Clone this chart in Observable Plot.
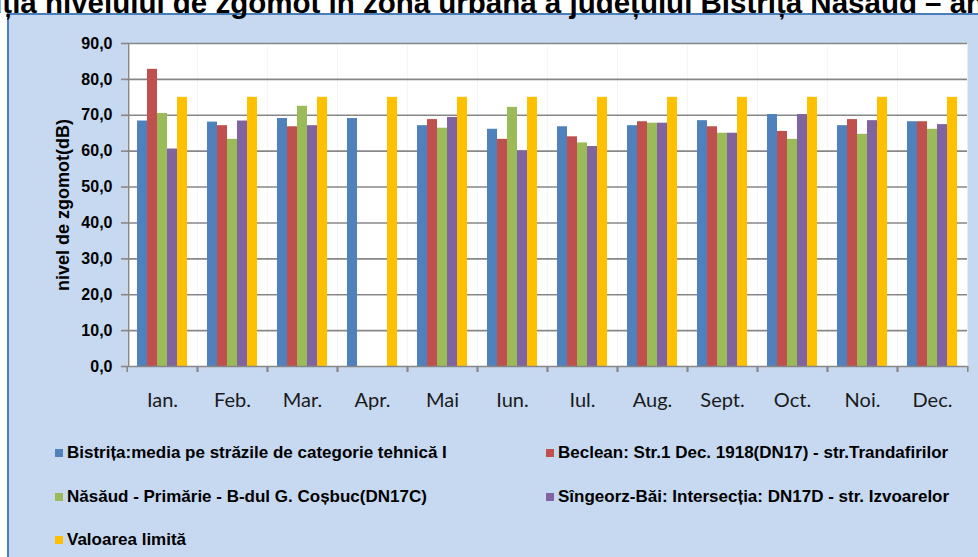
<!DOCTYPE html>
<html>
<head>
<meta charset="utf-8">
<script src="https://cdn.jsdelivr.net/npm/d3@7"></script>
<script src="https://cdn.jsdelivr.net/npm/@observablehq/plot@0.6"></script>
<style>
  html, body { margin: 0; padding: 0; background: #fff; }
  #root { position: relative; width: 978px; height: 557px; overflow: hidden; background: #fff; }
  #panel { position: absolute; left: 7px; top: 13px; width: 990px; height: 560px; background: #c6d9f1;
           border-left: 2px solid #4a7ebb; border-top: 2px solid #4a7ebb; box-sizing: border-box; }
  #title { position: absolute; top: -12px; left: -78px; white-space: nowrap; font-family: "Liberation Sans", Arial, sans-serif;
           font-weight: bold; font-size: 29.5px; line-height: 29.5px; color: #000; }
  #chart { position: absolute; left: 0; top: 0; }
  .leg { position: absolute; font-family: "Liberation Sans", Arial, sans-serif; font-weight: bold; font-size: 17px;
         color: #000; white-space: nowrap; display: flex; align-items: center; }
  .sw { display: inline-block; width: 8px; height: 8px; margin-right: 4px; }
</style>
</head>
<body>
<div id="root">
  <div id="panel"></div>
  <div id="title">Evoluția nivelului de zgomot în zona urbană a județului Bistrița Năsăud – anul</div>
  <div id="chart"></div>
  <div id="legend"></div>
</div>
<script>
const months = ["Ian.", "Feb.", "Mar.", "Apr.", "Mai", "Iun.", "Iul.", "Aug.", "Sept.", "Oct.", "Noi.", "Dec."];
const seriesNames = [
  "Bistrița:media pe străzile de categorie tehnică I",
  "Beclean: Str.1 Dec. 1918(DN17) - str.Trandafirilor",
  "Năsăud - Primărie - B-dul G. Coșbuc(DN17C)",
  "Sîngeorz-Băi: Intersecția: DN17D - str. Izvoarelor",
  "Valoarea limită"
];
const seriesColors = ["#4f81bd", "#c0504d", "#9bbb59", "#8064a2", "#ffc000"];
const bistrita = [68.4, 68.1, 69.1, 69.1, 67.1, 66.1, 66.8, 67.1, 68.5, 70.2, 67.1, 68.2];
const beclean  = [82.8, 67.1, 66.8, null, 68.8, 63.3, 64.0, 68.2, 66.8, 65.5, 68.8, 68.2];
const nasaud   = [70.5, 63.3, 72.5, null, 66.4, 72.2, 62.3, 67.8, 65.0, 63.3, 64.7, 66.1];
const singeorz = [60.6, 68.4, 67.1, null, 69.4, 60.1, 61.3, 67.8, 65.0, 70.2, 68.5, 67.4];
const limita   = [75.0, 75.0, 75.0, 75.0, 75.0, 75.0, 75.0, 75.0, 75.0, 75.0, 75.0, 75.0];
const yTicks = [0, 10, 20, 30, 40, 50, 60, 70, 80, 90];
const yLabel = "nivel de zgomot(dB)";

const allSeries = [bistrita, beclean, nasaud, singeorz, limita];
const rows = [];
months.forEach((m, i) => {
  allSeries.forEach((s, j) => {
    if (s[i] != null) rows.push({month: m, series: seriesNames[j], value: s[i]});
  });
});

const W = 978, ML = 123, MR = 8;
const OUTER = 0.8;
const step = (W - ML - MR) / months.length;
const halfStep = step / 2;
const bw = step / (seriesNames.length + 2 * OUTER);
const fmt = d => d3.format(".1f")(d).replace(".", ",");
const gridColor = "#878787";

const chart = Plot.plot({
  width: W,
  height: 420,
  marginLeft: ML,
  marginRight: MR,
  marginTop: 43,
  marginBottom: 54,
  style: {background: "transparent", color: "#000", overflow: "visible"},
  fx: {domain: months, padding: 0, axis: null},
  x: {domain: seriesNames, paddingInner: 0, paddingOuter: OUTER, axis: null},
  y: {domain: [0, 90], axis: null},
  color: {domain: seriesNames, range: seriesColors},
  marks: [
    Plot.frame({fill: "white", stroke: null}),
    Plot.ruleY(yTicks.slice(1), {stroke: gridColor, strokeWidth: 1.6}),
    Plot.barY(rows, {fx: "month", x: "series", y: "value", fill: "series", insetLeft: 0, insetRight: 0}),
    Plot.ruleY([0], {stroke: gridColor, strokeWidth: 1.6}),
    Plot.ruleX([months[0]], {fx: d => d, x: () => seriesNames[0], y1: 0, y2: 90,
      dx: -(OUTER + 0.5) * bw, stroke: gridColor, strokeWidth: 1.6}),
    Plot.axisY({
      ticks: yTicks, tickSize: 6, tickPadding: 9, tickFormat: fmt,
      fontSize: 16, fontWeight: "bold", fontFamily: "Liberation Sans, Arial, sans-serif",
      stroke: gridColor, strokeWidth: 1.6, fill: "#000", label: null
    }),
    Plot.text([yLabel], {fx: () => months[0], text: d => d, frameAnchor: "left", textAnchor: "middle",
      lineAnchor: "middle", rotate: -90, dx: -64,
      fontSize: 18, fontWeight: "bold", fontFamily: "Liberation Sans, Arial, sans-serif", fill: "#000"}),
    Plot.axisFx({anchor: "bottom", tickSize: 0, tickPadding: 26, fontSize: 20, fontFamily: "Lato, sans-serif", fill: "#1a1a1a", label: null}),
    Plot.axisFx({anchor: "bottom", tickSize: 6, tickFormat: () => "", dx: halfStep, stroke: gridColor, strokeWidth: 1.6, label: null}),
    Plot.axisFx({anchor: "bottom", tickSize: 6, tickFormat: () => "", dx: -halfStep, stroke: gridColor, strokeWidth: 1.6, label: null})
  ]
});
document.getElementById("chart").appendChild(chart);

// legend
const legendPos = [
  {x: 55, y: 453}, {x: 546, y: 453},
  {x: 55, y: 497}, {x: 546, y: 497},
  {x: 55, y: 540}
];
const legend = document.getElementById("legend");
seriesNames.forEach((name, i) => {
  const d = document.createElement("div");
  d.className = "leg";
  d.style.left = legendPos[i].x + "px";
  d.style.top = (legendPos[i].y - 10) + "px";
  d.style.height = "20px";
  const sw = document.createElement("span");
  sw.className = "sw";
  sw.style.background = seriesColors[i];
  d.appendChild(sw);
  d.appendChild(document.createTextNode(name));
  legend.appendChild(d);
});
</script>
</body>
</html>
